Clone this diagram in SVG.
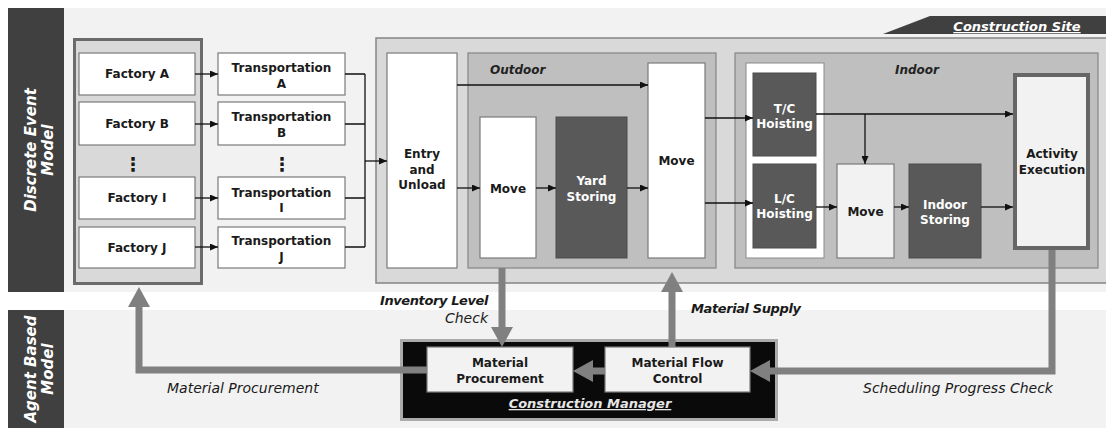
<svg xmlns="http://www.w3.org/2000/svg" width="1106" height="428" viewBox="0 0 1106 428">
  <style>
    text{font-family:"DejaVu Sans","Liberation Sans",sans-serif}
    .lbl{font-weight:bold;font-size:12px;fill:#1a1a1a;text-anchor:middle}
    .wt{fill:#ffffff}
    .box{fill:#ffffff;stroke:#7a7a7a;stroke-width:1.2}
    .pale{fill:#f2f2f2;stroke:#7a7a7a;stroke-width:1.2}
    .dark{fill:#595959;stroke:#4d4d4d;stroke-width:1}
    .ln{fill:none;stroke:#111111;stroke-width:1.3}
    .big{fill:none;stroke:#808080;stroke-width:7}
    .side{font-weight:bold;font-style:italic;font-size:15px;fill:#ffffff;text-anchor:middle}
    .note{font-style:italic;font-size:14px;fill:#1a1a1a}
    .noteb{font-weight:bold;font-style:italic;font-size:13px;fill:#1a1a1a;letter-spacing:-0.4px}
    .zone{font-weight:bold;font-style:italic;font-size:12px;fill:#222222}
    .dots{font-weight:bold;font-size:19px;fill:#1a1a1a;text-anchor:middle}
  </style>
  <defs>
    <marker id="tip" viewBox="0 0 8 7" refX="8" refY="3.5" markerWidth="8" markerHeight="7" markerUnits="userSpaceOnUse" orient="auto">
      <path d="M0,0 L8,3.5 L0,7 z" fill="#111111"/>
    </marker>
    <marker id="fat" viewBox="0 0 20 22" refX="0" refY="11" markerWidth="20" markerHeight="22" markerUnits="userSpaceOnUse" orient="auto">
      <path d="M0,0 L20,11 L0,22 z" fill="#808080"/>
    </marker>
  </defs>

  <!-- background bands -->
  <rect x="64" y="8" width="1042" height="284" fill="#f2f2f2"/>
  <rect x="64" y="310" width="1042" height="118" fill="#f2f2f2"/>
  <g id="band-des">
    <rect x="8" y="8" width="56" height="284" fill="#404040"/>
    <text class="side" transform="translate(36,150) rotate(-90)"><tspan x="0" y="0">Discrete Event</tspan><tspan x="0" y="17">Model</tspan></text>
  </g>
  <g id="band-abm">
    <rect x="8" y="310" width="56" height="118" fill="#404040"/>
    <text class="side" transform="translate(36,369) rotate(-90)"><tspan x="0" y="0">Agent Based</tspan><tspan x="0" y="17">Model</tspan></text>
  </g>

  <!-- construction site frame -->
  <g id="site">
    <rect x="376" y="38" width="740" height="245" fill="#d9d9d9" stroke="#858585" stroke-width="1.5"/>
    <path d="M883,34 L930,16 L1106,16 L1106,34 z" fill="#404040"/>
    <text x="1017" y="31" text-anchor="middle" font-weight="bold" font-style="italic" font-size="13" fill="#ffffff" text-decoration="underline">Construction Site</text>
  </g>

  <!-- factories -->
  <g id="factories">
    <rect x="74.5" y="39.5" width="127" height="244" fill="#d9d9d9" stroke="#6b6b6b" stroke-width="3"/>
  </g>
  <g id="factory-a"><rect class="box" x="79" y="53" width="116" height="42"/><text class="lbl" x="137" y="78">Factory A</text></g>
  <g id="factory-b"><rect class="box" x="79" y="102" width="116" height="43"/><text class="lbl" x="137" y="128">Factory B</text></g>
  <g id="factory-dots"><text class="dots" x="133" y="171">⋮</text></g>
  <g id="factory-i"><rect class="box" x="79" y="177" width="116" height="42"/><text class="lbl" x="137" y="202">Factory I</text></g>
  <g id="factory-j"><rect class="box" x="79" y="227" width="116" height="41"/><text class="lbl" x="137" y="252">Factory J</text></g>

  <!-- transportation -->
  <g id="trans-a"><rect class="box" x="218" y="53" width="127" height="42"/><text class="lbl" x="281.5" y="72">Transportation<tspan x="281.5" y="88">A</tspan></text></g>
  <g id="trans-b"><rect class="box" x="218" y="102" width="127" height="43"/><text class="lbl" x="281.5" y="121">Transportation<tspan x="281.5" y="137">B</tspan></text></g>
  <g id="trans-dots"><text class="dots" x="282" y="171">⋮</text></g>
  <g id="trans-i"><rect class="box" x="218" y="177" width="127" height="42"/><text class="lbl" x="281.5" y="197">Transportation<tspan x="281.5" y="212">I</tspan></text></g>
  <g id="trans-j"><rect class="box" x="218" y="227" width="127" height="41"/><text class="lbl" x="281.5" y="245">Transportation<tspan x="281.5" y="261">J</tspan></text></g>

  <!-- entry -->
  <g id="entry"><rect class="box" x="387" y="53" width="70" height="215"/><text class="lbl" x="422" y="158">Entry<tspan x="422" y="174">and</tspan><tspan x="422" y="189">Unload</tspan></text></g>

  <!-- outdoor zone -->
  <g id="outdoor">
    <rect x="468" y="53" width="248" height="215" fill="#bfbfbf" stroke="#858585" stroke-width="1.2"/>
    <text class="zone" x="490" y="74">Outdoor</text>
  </g>
  <g id="move-out"><rect class="box" x="480" y="117" width="56" height="141"/><text class="lbl" x="508" y="193">Move</text></g>
  <g id="yard"><rect class="dark" x="556" y="117" width="71" height="141"/><text class="lbl wt" x="591.5" y="185">Yard<tspan x="591.5" y="201">Storing</tspan></text></g>
  <g id="move-site"><rect class="box" x="648" y="63" width="57" height="195"/><text class="lbl" x="676.5" y="165">Move</text></g>

  <!-- indoor zone -->
  <g id="indoor">
    <rect x="735" y="53" width="363" height="215" fill="#bfbfbf" stroke="#858585" stroke-width="1.2"/>
    <text class="zone" x="917" y="74" text-anchor="middle">Indoor</text>
    <rect x="746" y="63" width="78" height="195" fill="#ffffff" stroke="#8a8a8a" stroke-width="1"/>
  </g>
  <g id="tc"><rect class="dark" x="753" y="73" width="63" height="83"/><text class="lbl wt" x="784.5" y="113">T/C<tspan x="784.5" y="128">Hoisting</tspan></text></g>
  <g id="lc"><rect class="dark" x="753" y="164" width="63" height="84"/><text class="lbl wt" x="784.5" y="203">L/C<tspan x="784.5" y="218">Hoisting</tspan></text></g>
  <g id="move-in"><rect class="pale" x="837" y="164" width="57" height="94"/><text class="lbl" x="865.5" y="216">Move</text></g>
  <g id="indoor-storing"><rect class="dark" x="909" y="164" width="72" height="94"/><text class="lbl wt" x="945" y="209">Indoor<tspan x="945" y="224">Storing</tspan></text></g>
  <g id="activity"><rect x="1015" y="75" width="73" height="173" fill="#f2f2f2" stroke="#666666" stroke-width="4"/><text class="lbl" x="1052" y="158">Activity<tspan x="1052" y="174">Execution</tspan></text></g>

  <!-- construction manager -->
  <g id="manager">
    <rect x="401.5" y="340.5" width="375" height="79" fill="#0a0a0a" stroke="#ababab" stroke-width="3"/>
    <text x="590" y="408" text-anchor="middle" font-weight="bold" font-style="italic" font-size="13" fill="#e6e6e6" text-decoration="underline">Construction Manager</text>
  </g>
  <g id="procurement"><rect class="pale" x="427" y="347" width="146" height="45"/><text class="lbl" x="500" y="367">Material<tspan x="500" y="383">Procurement</tspan></text></g>
  <g id="flow-control"><rect class="pale" x="605" y="347" width="145" height="45"/><text class="lbl" x="677.5" y="367">Material Flow<tspan x="677.5" y="383">Control</tspan></text></g>

  <!-- connectors -->
  <g id="connectors">
    <path class="ln" d="M195,74 H218" marker-end="url(#tip)"/>
    <path class="ln" d="M195,124 H218" marker-end="url(#tip)"/>
    <path class="ln" d="M195,198 H218" marker-end="url(#tip)"/>
    <path class="ln" d="M195,247 H218" marker-end="url(#tip)"/>
    <path class="ln" d="M345,74 H365 M345,124 H365 M345,198 H365 M345,247 H365 M365,74 V247"/>
    <path class="ln" d="M365,161 H387" marker-end="url(#tip)"/>
    <path class="ln" d="M457,85 H648" marker-end="url(#tip)"/>
    <path class="ln" d="M457,188 H480" marker-end="url(#tip)"/>
    <path class="ln" d="M536,188 H556" marker-end="url(#tip)"/>
    <path class="ln" d="M627,188 H648" marker-end="url(#tip)"/>
    <path class="ln" d="M705,118 H753" marker-end="url(#tip)"/>
    <path class="ln" d="M705,203 H753" marker-end="url(#tip)"/>
    <path class="ln" d="M816,114 H1013" marker-end="url(#tip)"/>
    <path class="ln" d="M865,114 V164" marker-end="url(#tip)"/>
    <path class="ln" d="M816,207 H837" marker-end="url(#tip)"/>
    <path class="ln" d="M894,207 H909" marker-end="url(#tip)"/>
    <path class="ln" d="M981,207 H1013" marker-end="url(#tip)"/>

    <path class="big" d="M1052,250 V371 H770" marker-end="url(#fat)"/>
    <path class="big" d="M672,347 V292" marker-end="url(#fat)"/>
    <path class="big" d="M502,268 V327" marker-end="url(#fat)"/>
    <path class="big" d="M605,371 H593" marker-end="url(#fat)"/>
    <path class="big" d="M427,370 H139 V307" marker-end="url(#fat)"/>

    <text class="noteb" x="488" y="305" text-anchor="end">Inventory Level</text>
    <text class="note" x="488" y="323" text-anchor="end">Check</text>
    <text class="noteb" x="691" y="313">Material Supply</text>
    <text class="note" x="167" y="393">Material Procurement</text>
    <text class="note" x="863" y="393">Scheduling Progress Check</text>
  </g>
</svg>
